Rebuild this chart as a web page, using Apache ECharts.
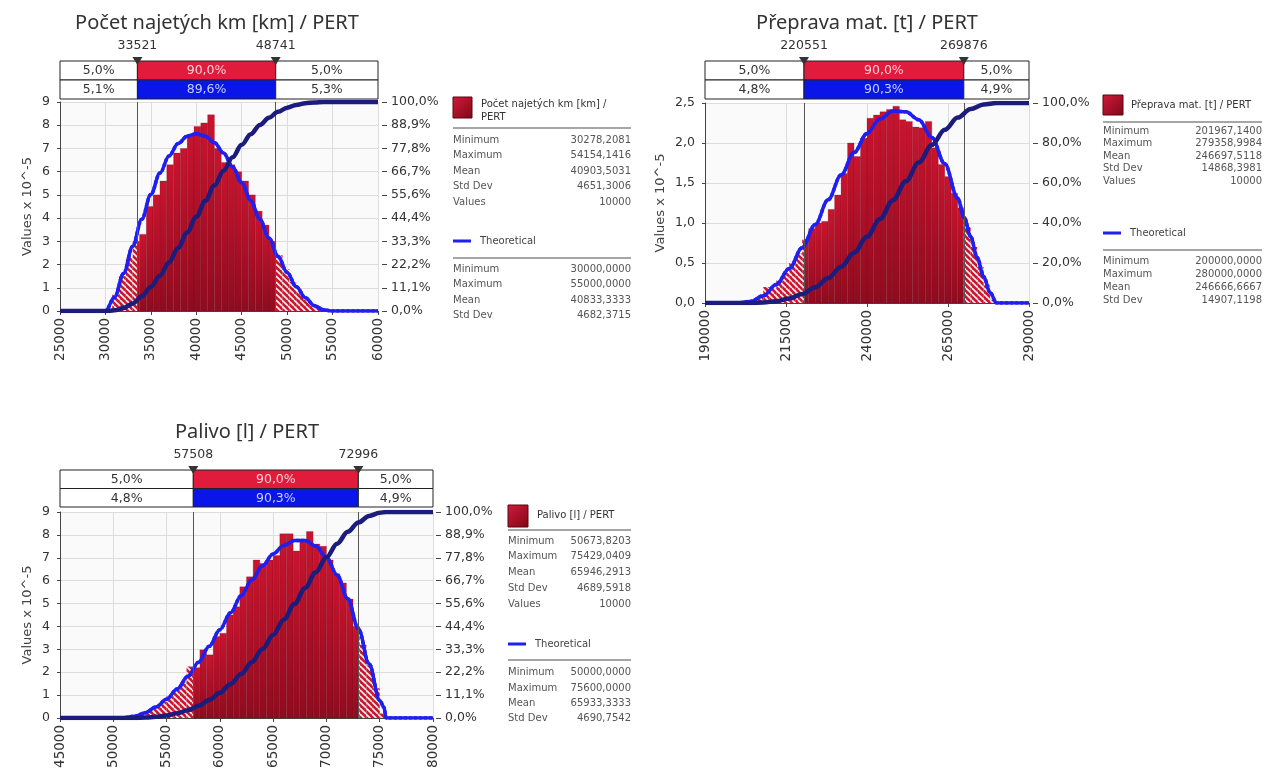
<!DOCTYPE html>
<html>
<head>
<meta charset="utf-8">
<script src="https://cdn.jsdelivr.net/npm/echarts@6/dist/echarts.min.js"></script>
<style>
  html, body { margin: 0; padding: 0; background: #ffffff; }
  #chart { width: 1282px; height: 772px; }
</style>
</head>
<body>
<div id="chart"></div>
<script>
// ---------------------------------------------------------------
// Data: three PERT simulation results (histogram of 10000 values,
// theoretical density, cumulative curve, 5 % / 95 % delimiters)
// ---------------------------------------------------------------
const statNames = ['Minimum', 'Maximum', 'Mean', 'Std Dev', 'Values'];

// Počet najetých km [km]
const kmTitle = 'Počet najetých km [km] / PERT';
const kmLegendName = ['Počet najetých km [km] /', 'PERT'];
const kmDelims = [33521, 48741];
const kmTargetPct = ['5,0%', '90,0%', '5,0%'];
const kmSimPct = ['5,1%', '89,6%', '5,3%'];
const kmXRange = [25000, 60000];
const kmXStep = 5000;
const kmYMax = 9;
const kmBinStart = 30000;
const kmBinWidth = 750;
const kmHist = [0.12, 0.7, 1.5, 2.3, 3.0, 3.3, 4.5, 5.0, 5.6, 6.3, 6.8, 7.0, 7.6, 7.95, 8.1, 8.45,
                7.0, 6.4, 6.3, 6.0, 5.6, 5.0, 4.3, 3.7, 3.0, 2.4, 1.8, 1.25, 0.85, 0.5, 0.25, 0.1, 0.03];
const kmCurveX = [25000, 30000, 31000, 32000, 33000, 34000, 35000, 36000, 37000, 38000, 39000, 40000,
                  41000, 42000, 43000, 44000, 45000, 46000, 47000, 48000, 49000, 50000, 51000, 52000,
                  53000, 54000, 55000, 60000];
const kmTheoY = [0, 0, 0.59, 1.62, 2.79, 3.95, 5.02, 5.94, 6.68, 7.21, 7.53, 7.63, 7.53, 7.25, 6.80,
                 6.21, 5.52, 4.75, 3.95, 3.14, 2.36, 1.66, 1.05, 0.57, 0.23, 0.05, 0, 0];
const kmCumY = [0, 0, 0.3, 1.4, 3.6, 7.0, 11.5, 16.9, 23.2, 30.2, 37.6, 45.1, 52.7, 60.1, 67.1, 73.6,
                79.5, 84.6, 89.0, 92.5, 95.3, 97.3, 98.6, 99.4, 99.8, 99.97, 100, 100];
const kmSimStats = ['30278,2081', '54154,1416', '40903,5031', '4651,3006', '10000'];
const kmTheoStats = ['30000,0000', '55000,0000', '40833,3333', '4682,3715'];

// Přeprava mat. [t]
const trTitle = 'Přeprava mat. [t] / PERT';
const trLegendName = ['Přeprava mat. [t] / PERT'];
const trDelims = [220551, 269876];
const trTargetPct = ['5,0%', '90,0%', '5,0%'];
const trSimPct = ['4,8%', '90,3%', '4,9%'];
const trXRange = [190000, 290000];
const trXStep = 25000;
const trYMax = 2.5;
const trBinStart = 200000;
const trBinWidth = 2000;
const trHist = [0.01, 0.02, 0.03, 0.08, 0.2, 0.18, 0.28, 0.38, 0.5, 0.62, 0.8, 0.93, 1.0, 1.02, 1.17,
                1.35, 1.62, 2.0, 1.83, 2.06, 2.31, 2.35, 2.39, 2.42, 2.46, 2.29, 2.27, 2.2, 2.19, 2.27,
                1.94, 1.73, 1.58, 1.37, 1.19, 0.95, 0.7, 0.45, 0.22, 0.04];
const trTheoX = [190000, 200000, 204000, 208000, 212000, 216000, 220000, 224000, 228000, 232000,
                 236000, 240000, 244000, 248000, 252000, 256000, 260000, 264000, 268000, 270000,
                 272000, 274000, 276000, 278000, 280000, 290000];
const trTheoY = [0, 0, 0.02, 0.09, 0.23, 0.43, 0.69, 0.98, 1.29, 1.60, 1.88, 2.12, 2.30, 2.40, 2.39,
                 2.29, 2.07, 1.74, 1.31, 1.07, 0.83, 0.57, 0.33, 0.13, 0, 0];
const trCumX = [190000, 200000, 204000, 208000, 212000, 216000, 220000, 224000, 228000, 232000,
                236000, 240000, 244000, 248000, 252000, 256000, 260000, 264000, 268000, 272000,
                276000, 280000, 290000];
const trCumY = [0, 0, 0.04, 0.25, 0.9, 2.23, 4.48, 7.82, 12.36, 18.13, 25.09, 33.10, 41.94, 51.33,
                60.91, 70.27, 78.98, 86.59, 92.70, 96.98, 99.29, 100, 100];
const trSimStats = ['201967,1400', '279358,9984', '246697,5118', '14868,3981', '10000'];
const trTheoStats = ['200000,0000', '280000,0000', '246666,6667', '14907,1198'];

// Palivo [l]
const paTitle = 'Palivo [l] / PERT';
const paLegendName = ['Palivo [l] / PERT'];
const paDelims = [57508, 72996];
const paTargetPct = ['5,0%', '90,0%', '5,0%'];
const paSimPct = ['4,8%', '90,3%', '4,9%'];
const paXRange = [45000, 80000];
const paXStep = 5000;
const paYMax = 9;
const paBinStart = 50625;
const paBinWidth = 625;
const paHist = [0.01, 0.05, 0.1, 0.2, 0.34, 0.5, 0.7, 0.95, 1.25, 1.55, 2.25, 2.2, 2.98, 2.76, 3.56,
                3.7, 4.5, 4.86, 5.73, 6.17, 6.9, 6.75, 6.9, 7.1, 8.05, 8.05, 7.3, 7.8, 8.15, 7.6, 7.5,
                6.9, 6.3, 5.9, 5.2, 4.0, 3.2, 2.3, 1.3, 0.2];
const paTheoX = [45000, 50000, 51000, 52000, 53000, 54000, 55000, 56000, 57000, 58000, 59000, 60000,
                 61000, 62000, 63000, 64000, 65000, 66000, 67000, 68000, 69000, 70000, 71000, 72000,
                 73000, 74000, 75000, 75400, 75600, 80000];
const paTheoY = [0, 0, 0.01, 0.08, 0.23, 0.48, 0.82, 1.27, 1.82, 2.44, 3.13, 3.86, 4.60, 5.34, 6.03,
                 6.65, 7.17, 7.54, 7.75, 7.75, 7.51, 7.02, 6.25, 5.21, 3.90, 2.37, 0.77, 0.47, 0, 0];
const paCumX = [45000, 50000, 51000, 52000, 53000, 54000, 55000, 56000, 57000, 58000, 59000, 60000,
                61000, 62000, 63000, 64000, 65000, 66000, 67000, 68000, 69000, 70000, 71000, 72000,
                73000, 74000, 75000, 75600, 80000];
const paCumY = [0, 0, 0.01, 0.05, 0.21, 0.56, 1.21, 2.26, 3.80, 5.93, 8.72, 12.21, 16.44, 21.41,
                27.10, 33.44, 40.35, 47.71, 55.35, 63.10, 70.73, 77.99, 84.63, 90.36, 94.91, 98.05,
                99.61, 100, 100];
const paSimStats = ['50673,8203', '75429,0409', '65946,2913', '4689,5918', '10000'];
const paTheoStats = ['50000,0000', '75600,0000', '65933,3333', '4690,7542'];

// ---------------------------------------------------------------
// Layout of the three panels (pixels)
// ---------------------------------------------------------------
const panels = [
  {
    title: kmTitle, legendName: kmLegendName, delims: kmDelims, target: kmTargetPct, sim: kmSimPct,
    xRange: kmXRange, xStep: kmXStep, yMax: kmYMax, yStep: 1, yDecimals: 0, rStep: 100 / 9,
    binStart: kmBinStart, binWidth: kmBinWidth, hist: kmHist,
    theoX: kmCurveX, theoY: kmTheoY, cumX: kmCurveX, cumY: kmCumY,
    simStats: kmSimStats, theoStats: kmTheoStats,
    lay: {
      plot: { left: 60, top: 102, width: 318, height: 209 }, table: { top: 61, height: 38 },
      title: [217, 23], nameGap: 26, rightOffset: 4,
      leg: { x: 453, r: 631, sqTop: 97, sqW: 19, sqH: 21, nameX: 481, nameY: 104, nameLH: 13,
             sep1: 128, rows: [140, 155.5, 171, 186.5, 202], theo: 241, sep2: 258,
             theoRows: [269, 284.5, 300, 315.5] }
    }
  },
  {
    title: trTitle, legendName: trLegendName, delims: trDelims, target: trTargetPct, sim: trSimPct,
    xRange: trXRange, xStep: trXStep, yMax: trYMax, yStep: 0.5, yDecimals: 1, rStep: 20,
    binStart: trBinStart, binWidth: trBinWidth, hist: trHist,
    theoX: trTheoX, theoY: trTheoY, cumX: trCumX, cumY: trCumY,
    simStats: trSimStats, theoStats: trTheoStats,
    lay: {
      plot: { left: 705, top: 103, width: 324, height: 200 }, table: { top: 61, height: 38 },
      title: [867, 23], nameGap: 38, rightOffset: 4,
      leg: { x: 1103, r: 1262, sqTop: 95, sqW: 20, sqH: 20, nameX: 1131, nameY: 105, nameLH: 13,
             sep1: 122, rows: [131, 143.5, 156, 168.5, 181], theo: 233, sep2: 250,
             theoRows: [261, 274, 287, 300] }
    }
  },
  {
    title: paTitle, legendName: paLegendName, delims: paDelims, target: paTargetPct, sim: paSimPct,
    xRange: paXRange, xStep: paXStep, yMax: paYMax, yStep: 1, yDecimals: 0, rStep: 100 / 9,
    binStart: paBinStart, binWidth: paBinWidth, hist: paHist,
    theoX: paTheoX, theoY: paTheoY, cumX: paCumX, cumY: paCumY,
    simStats: paSimStats, theoStats: paTheoStats,
    lay: {
      plot: { left: 60, top: 512, width: 373, height: 206 }, table: { top: 470, height: 37 },
      title: [247, 432], nameGap: 26, rightOffset: 3,
      leg: { x: 508, r: 631, sqTop: 505, sqW: 20, sqH: 22, nameX: 537, nameY: 515, nameLH: 13,
             sep1: 530, rows: [541, 556, 572, 588, 604], theo: 644, sep2: 660,
             theoRows: [672, 688, 703, 718] }
    }
  }
];

// ---------------------------------------------------------------
// Styles
// ---------------------------------------------------------------
const FONT = 'DejaVu Sans';
const TEXT = '#333333';
const THEO_BLUE = '#1f1ff0';
const CUM_NAVY = '#1c1c7c';
const CELL_RED = '#e11b3c';
const CELL_BLUE = '#0a16e8';

function makeHatchCanvas() {
  const c = document.createElement('canvas');
  c.width = 6; c.height = 6;
  const g = c.getContext('2d');
  g.fillStyle = '#c8172f';
  g.fillRect(0, 0, 6, 6);
  g.strokeStyle = 'rgba(255,255,255,0.92)';
  g.lineWidth = 1.6;
  for (const o of [-6, 0, 6]) {
    g.beginPath(); g.moveTo(o, 0); g.lineTo(o + 6, 6); g.stroke();
  }
  return c;
}
const hatchFill = { image: makeHatchCanvas(), repeat: 'repeat' };
const barFill = new echarts.graphic.LinearGradient(0, 0, 0, 1, [
  { offset: 0, color: '#c9142f' }, { offset: 1, color: '#8f0b1f' }
]);
const squareFill = new echarts.graphic.LinearGradient(0, 0, 1, 1, [
  { offset: 0, color: '#d41a3a' }, { offset: 1, color: '#7c0816' }
]);

function fmtComma(v, d) { return v.toFixed(d).replace('.', ','); }
function zip(xs, ys) { return xs.map((x, i) => [x, ys[i]]); }

// ---------------------------------------------------------------
// Build the option
// ---------------------------------------------------------------
const grid = [], xAxis = [], yAxis = [], series = [], visualMap = [], graphic = [];

function splitPieces(d, color) {
  return [
    { lt: d[0], color: 'rgba(0,0,0,0)' },
    { gte: d[0], lte: d[1], color: color },
    { gt: d[1], color: 'rgba(0,0,0,0)' }
  ];
}

function txt(x, y, text, font, fill, align) {
  return {
    type: 'text', x: x, y: y, silent: true,
    style: { text: text, font: font, fill: fill, align: align || 'left', verticalAlign: 'middle',
             textAlign: align || 'left', textVerticalAlign: 'middle' }
  };
}

panels.forEach(P => {
  const L = P.lay;
  const [d1, d2] = P.delims;
  const [xMin, xMax] = P.xRange;

  // grids: plot + percentage table above it
  const gMain = grid.length;
  grid.push({ left: L.plot.left, top: L.plot.top, width: L.plot.width, height: L.plot.height,
              show: true, backgroundColor: '#fafafa', borderWidth: 0, containLabel: false,
              outerBoundsMode: 'none' });
  const gTab = grid.length;
  grid.push({ left: L.plot.left, top: L.table.top, width: L.plot.width, height: L.table.height,
              show: false, containLabel: false, outerBoundsMode: 'none' });

  const xMainIdx = xAxis.length;
  xAxis.push({
    gridIndex: gMain, type: 'value', min: xMin, max: xMax, interval: P.xStep,
    axisLine: { show: true, onZero: false, lineStyle: { color: '#444', width: 1 } },
    axisTick: { show: true, length: 4, lineStyle: { color: '#444' } },
    axisLabel: { rotate: 90, margin: 7, fontFamily: FONT, fontSize: 13.5, color: TEXT,
                 formatter: v => String(v), hideOverlap: false },
    splitLine: { show: true, lineStyle: { color: '#dddddd', width: 1 } }
  });
  const xTabIdx = xAxis.length;
  xAxis.push({ gridIndex: gTab, type: 'value', min: xMin, max: xMax, show: false });

  const yLeftIdx = yAxis.length;
  yAxis.push({
    gridIndex: gMain, type: 'value', position: 'left', min: 0, max: P.yMax, interval: P.yStep,
    name: 'Values x 10^-5', nameLocation: 'middle', nameGap: L.nameGap, nameRotate: 90,
    nameTextStyle: { fontFamily: FONT, fontSize: 13, color: '#444' },
    axisLine: { show: true, lineStyle: { color: '#444', width: 1 } },
    axisTick: { show: true, length: 3, lineStyle: { color: '#444' } },
    axisLabel: { margin: 10, fontFamily: FONT, fontSize: 12.5, color: TEXT,
                 formatter: v => fmtComma(v, P.yDecimals), hideOverlap: false },
    splitLine: { show: true, lineStyle: { color: '#dddddd', width: 1 } }
  });
  const yRightIdx = yAxis.length;
  yAxis.push({
    gridIndex: gMain, type: 'value', position: 'right', offset: L.rightOffset,
    min: 0, max: 100, interval: P.rStep,
    axisLine: { show: false },
    axisTick: { show: true, length: 5, lineStyle: { color: '#444' } },
    axisLabel: { margin: 9, fontFamily: FONT, fontSize: 12.5, color: TEXT,
                 formatter: v => fmtComma(v, 1) + '%', hideOverlap: false },
    splitLine: { show: false }
  });
  const yTabIdx = yAxis.length;
  yAxis.push({ gridIndex: gTab, type: 'value', min: 0, max: 2, show: false });

  // histogram: bars outside the delimiters are hatched
  const histData = P.hist.map((h, i) => [P.binStart + i * P.binWidth, P.binStart + (i + 1) * P.binWidth, h]);
  series.push({
    type: 'custom', xAxisIndex: xMainIdx, yAxisIndex: yLeftIdx, silent: true, z: 2,
    data: histData, encode: { x: [0, 1], y: 2 },
    renderItem: (params, api) => {
      const x0 = api.value(0), x1 = api.value(1), h = api.value(2);
      const segs = [[x0, Math.min(x1, d1), true], [Math.max(x0, d1), Math.min(x1, d2), false],
                    [Math.max(x0, d2), x1, true]];
      const children = [];
      segs.forEach(([a, b, tail]) => {
        if (b <= a) return;
        const p0 = api.coord([a, h]);
        const p1 = api.coord([b, 0]);
        children.push({
          type: 'rect',
          shape: { x: p0[0], y: p0[1], width: p1[0] - p0[0], height: p1[1] - p0[1] },
          style: tail ? { fill: hatchFill }
                      : { fill: barFill, stroke: 'rgba(105,0,18,0.35)', lineWidth: 0.6 }
        });
      });
      return { type: 'group', children: children };
    },
    markLine: {
      silent: true, symbol: ['none', 'none'], animation: false,
      label: { show: false },
      lineStyle: { color: '#555', width: 1, type: 'solid' },
      data: [{ xAxis: d1 }, { xAxis: d2 }]
    }
  });

  // theoretical density: hatched-looking dashes in the tails, solid in between
  const theoData = zip(P.theoX, P.theoY);
  series.push({
    type: 'line', xAxisIndex: xMainIdx, yAxisIndex: yLeftIdx, silent: true, z: 3,
    data: theoData, symbol: 'none', smooth: 0.35, smoothMonotone: 'x',
    lineStyle: { color: THEO_BLUE, width: 3.5, type: [3, 2] }
  });
  visualMap.push({ type: 'piecewise', show: false, seriesIndex: series.length, dimension: 0,
                   pieces: splitPieces(P.delims, THEO_BLUE) });
  series.push({
    type: 'line', xAxisIndex: xMainIdx, yAxisIndex: yLeftIdx, silent: true, z: 4,
    data: theoData, symbol: 'none', smooth: 0.35, smoothMonotone: 'x',
    lineStyle: { color: THEO_BLUE, width: 3.5 }
  });

  // cumulative curve on the percentage axis
  const cumData = zip(P.cumX, P.cumY);
  series.push({
    type: 'line', xAxisIndex: xMainIdx, yAxisIndex: yRightIdx, silent: true, z: 5,
    data: cumData, symbol: 'none', smooth: 0.35, smoothMonotone: 'x',
    lineStyle: { color: CUM_NAVY, width: 3, type: [6, 2] }
  });
  visualMap.push({ type: 'piecewise', show: false, seriesIndex: series.length, dimension: 0,
                   pieces: splitPieces(P.delims, CUM_NAVY) });
  series.push({
    type: 'line', xAxisIndex: xMainIdx, yAxisIndex: yRightIdx, silent: true, z: 6,
    data: cumData, symbol: 'none', smooth: 0.35, smoothMonotone: 'x',
    lineStyle: { color: CUM_NAVY, width: 4.5 }
  });

  // percentage table: row 0 = target 5/90/5, row 1 = simulated shares
  const cells = [];
  const bounds = [[xMin, d1], [d1, d2], [d2, xMax]];
  bounds.forEach((b, i) => {
    cells.push({ x0: b[0], x1: b[1], row: 0, text: P.target[i],
                 fill: i === 1 ? CELL_RED : '#ffffff', color: i === 1 ? '#fbd0d8' : TEXT });
    cells.push({ x0: b[0], x1: b[1], row: 1, text: P.sim[i],
                 fill: i === 1 ? CELL_BLUE : '#ffffff', color: i === 1 ? '#c4d0ff' : TEXT });
  });
  series.push({
    type: 'custom', xAxisIndex: xTabIdx, yAxisIndex: yTabIdx, silent: true, z: 3,
    data: cells.map(c => [c.x0, c.x1, 2 - c.row]),
    renderItem: (params, api) => {
      const c = cells[params.dataIndex];
      const p0 = api.coord([c.x0, 2 - c.row]);
      const p1 = api.coord([c.x1, 1 - c.row]);
      return {
        type: 'group', children: [
          { type: 'rect', shape: { x: p0[0], y: p0[1], width: p1[0] - p0[0], height: p1[1] - p0[1] },
            style: { fill: c.fill, stroke: '#222', lineWidth: 1 } },
          { type: 'text', x: (p0[0] + p1[0]) / 2, y: (p0[1] + p1[1]) / 2 + 0.5,
            style: { text: c.text, fill: c.color, font: '12.5px "' + FONT + '"',
                     align: 'center', verticalAlign: 'middle' } }
        ]
      };
    }
  });

  // delimiter markers (triangle + value) on top of the table
  series.push({
    type: 'custom', xAxisIndex: xTabIdx, yAxisIndex: yTabIdx, silent: true, z: 5,
    data: P.delims.map(d => [d, 2]),
    renderItem: (params, api) => {
      const d = api.value(0);
      const p = api.coord([d, 2]);
      return {
        type: 'group', children: [
          { type: 'polygon', shape: { points: [[p[0] - 5, p[1] - 4], [p[0] + 5, p[1] - 4], [p[0], p[1] + 4]] },
            style: { fill: '#333' } },
          { type: 'text', x: p[0], y: p[1] - 15,
            style: { text: String(d), fill: TEXT, font: '12.5px "' + FONT + '"',
                     align: 'center', verticalAlign: 'middle' } }
        ]
      };
    }
  });

  // title
  graphic.push(txt(L.title[0], L.title[1], P.title, '20px "Noto Sans"', TEXT, 'center'));

  // statistics legend
  const G = L.leg;
  const small = '10px "' + FONT + '"';
  graphic.push({ type: 'rect', x: G.x, y: G.sqTop, silent: true,
                 shape: { width: G.sqW, height: G.sqH },
                 style: { fill: squareFill, stroke: '#5c0512', lineWidth: 1 } });
  P.legendName.forEach((t, i) => graphic.push(txt(G.nameX, G.nameY + i * G.nameLH, t, small, '#333')));
  graphic.push({ type: 'line', silent: true, shape: { x1: G.x, y1: G.sep1, x2: G.r, y2: G.sep1 },
                 style: { stroke: '#a6a6a6', lineWidth: 2 } });
  statNames.forEach((n, i) => {
    graphic.push(txt(G.x, G.rows[i], n, small, '#555'));
    graphic.push(txt(G.r, G.rows[i], P.simStats[i], small, '#555', 'right'));
  });
  graphic.push({ type: 'line', silent: true, shape: { x1: G.x, y1: G.theo, x2: G.x + 18, y2: G.theo },
                 style: { stroke: THEO_BLUE, lineWidth: 3 } });
  graphic.push(txt(G.x + 27, G.theo, 'Theoretical', small, '#444'));
  graphic.push({ type: 'line', silent: true, shape: { x1: G.x, y1: G.sep2, x2: G.r, y2: G.sep2 },
                 style: { stroke: '#a6a6a6', lineWidth: 2 } });
  P.theoStats.forEach((v, i) => {
    graphic.push(txt(G.x, G.theoRows[i], statNames[i], small, '#555'));
    graphic.push(txt(G.r, G.theoRows[i], v, small, '#555', 'right'));
  });
});

const chart = echarts.init(document.getElementById('chart'), null, { renderer: 'canvas', width: 1282, height: 772 });
chart.setOption({
  animation: false,
  backgroundColor: '#ffffff',
  textStyle: { fontFamily: FONT },
  grid: grid,
  xAxis: xAxis,
  yAxis: yAxis,
  visualMap: visualMap,
  series: series,
  graphic: graphic
});
</script>
</body>
</html>
